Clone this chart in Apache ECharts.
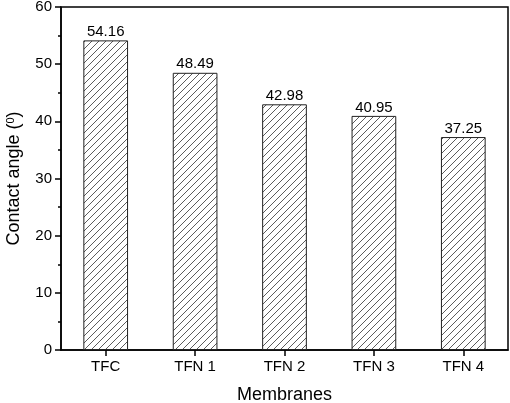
<!DOCTYPE html>
<html>
<head>
    <meta charset="utf-8">
    <title>Contact angle</title>
    <script src="https://cdn.jsdelivr.net/npm/echarts@6/dist/echarts.min.js"></script>
    <style>
        html, body { margin: 0; padding: 0; background: #fff; }
        #main { width: 510px; height: 403px; }
    </style>
</head>
<body>
    <div id="main"></div>
    <script type="text/javascript">
        var categories = ['TFC', 'TFN 1', 'TFN 2', 'TFN 3', 'TFN 4'];
        var angles = [54.16, 48.49, 42.98, 40.95, 37.25];
        var yTicks = [0, 10, 20, 30, 40, 50, 60];

        // hatch pattern for the bars (diagonal "/" lines)
        function makeHatch() {
            var s = 7;
            var c = document.createElement('canvas');
            c.width = s; c.height = s;
            var ctx = c.getContext('2d');
            ctx.fillStyle = '#fff';
            ctx.fillRect(0, 0, s, s);
            ctx.strokeStyle = '#4a4a4a';
            ctx.lineWidth = 0.9;
            ctx.beginPath();
            ctx.moveTo(-1, s + 1); ctx.lineTo(s + 1, -1);
            ctx.moveTo(-s - 1, 1); ctx.lineTo(1, -s - 1);
            ctx.moveTo(s - 1, 2 * s + 1); ctx.lineTo(2 * s + 1, s - 1);
            ctx.stroke();
            return c;
        }

        var myChart = echarts.init(document.getElementById('main'));
        var font = 'Liberation Sans, Arial, sans-serif';
        var option = {
            animation: false,
            textStyle: { fontFamily: font },
            grid: {
                left: 61, right: 2, top: 7, bottom: 53,
                outerBoundsMode: 'none',
                containLabel: false,
                show: true, borderColor: '#000', borderWidth: 1.5
            },
            xAxis: {
                type: 'category',
                data: categories,
                name: 'Membranes',
                nameLocation: 'middle',
                nameGap: 36,
                nameTextStyle: { fontSize: 18, color: '#000', fontFamily: font },
                axisLine: { lineStyle: { color: '#000', width: 1.5 } },
                axisTick: { show: true, alignWithLabel: true, length: 6, lineStyle: { color: '#000', width: 1.5 } },
                axisLabel: { fontSize: 15, color: '#000', margin: 9, fontFamily: font }
            },
            yAxis: {
                type: 'value',
                min: yTicks[0],
                max: yTicks[yTicks.length - 1],
                interval: 10,
                name: 'Contact angle ({sup|0})',
                nameLocation: 'middle',
                nameGap: 37,
                nameTextStyle: {
                    fontSize: 18, color: '#000', fontFamily: font,
                    rich: { sup: { fontSize: 11, verticalAlign: 'top', padding: [0, 0, 8, 0], color: '#000', fontFamily: font } }
                },
                axisLine: { show: true, lineStyle: { color: '#000', width: 1.5 } },
                axisTick: { show: true, length: 6, lineStyle: { color: '#000', width: 1.5 } },
                minorTick: { show: true, splitNumber: 2, length: 3, lineStyle: { color: '#000', width: 1.5 } },
                splitLine: { show: false },
                axisLabel: { fontSize: 15, color: '#000', margin: 9, fontFamily: font }
            },
            series: [{
                type: 'bar',
                data: angles,
                barWidth: '50%',
                itemStyle: {
                    color: { image: makeHatch(), repeat: 'repeat' },
                    borderColor: '#222',
                    borderWidth: 1
                },
                label: {
                    show: true,
                    position: 'top',
                    distance: 1,
                    fontSize: 15,
                    color: '#000',
                    fontFamily: font,
                    formatter: function (p) { return p.value.toFixed(2); }
                }
            }]
        };
        myChart.setOption(option);
        window.onresize = myChart.resize;
    </script>
</body>
</html>
